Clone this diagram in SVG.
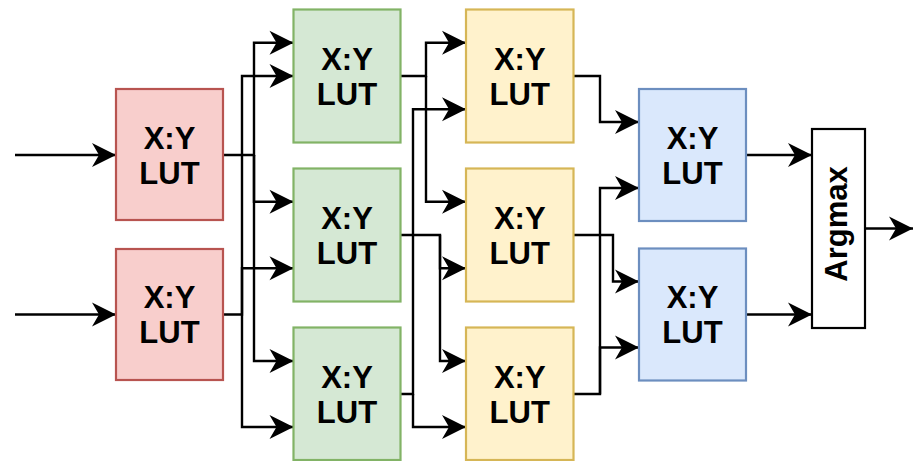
<svg xmlns="http://www.w3.org/2000/svg" width="914" height="461" viewBox="0 0 914 461">
  <defs>
    <marker id="arrow" markerUnits="userSpaceOnUse" markerWidth="24" markerHeight="24" viewBox="-24 -12 24 24" refX="0" refY="0" orient="auto" overflow="visible">
      <path d="M0,0 L-24,-12 L-17,0 L-24,12 Z" fill="#000"/>
    </marker>
    <style>
      .box { stroke-width: 2.2; }
      .red { fill: #f8cecc; stroke: #b85450; }
      .green { fill: #d5e8d4; stroke: #82b366; }
      .yellow { fill: #fff2cc; stroke: #d6b656; }
      .blue { fill: #dae8fc; stroke: #6c8ebf; }
      .plain { fill: #ffffff; stroke: #000000; }
      .lbl { font-family: "Liberation Sans", Arial, sans-serif; font-weight: bold; font-size: 31px; fill: #000; text-anchor: middle; }
      .wire { fill: none; stroke: #000; stroke-width: 2.4; marker-end: url(#arrow); }
    </style>
  </defs>
  <rect width="914" height="461" fill="#ffffff"/>

  <!-- connectors -->
  <g id="connectors">
    <!-- inputs -->
    <path class="wire" d="M15,155 H116"/>
    <path class="wire" d="M15,314.5 H116"/>
    <!-- layer 1 to layer 2 -->
    <path class="wire" d="M223,155 H254 V42.75 H293.5"/>
    <path class="wire" d="M254,155 V201.75 H293.5"/>
    <path class="wire" d="M254,155 V361 H293.5"/>
    <path class="wire" d="M223,314.5 H242 V76 H293.5"/>
    <path class="wire" d="M242,314.5 V268.25 H293.5"/>
    <path class="wire" d="M242,314.5 V427 H293.5"/>
    <!-- layer 2 to layer 3 -->
    <path class="wire" d="M400.5,76 H426 V42.75 H466"/>
    <path class="wire" d="M426,76 V201.75 H466"/>
    <path class="wire" d="M400.5,235 H440 V268.25 H466"/>
    <path class="wire" d="M440,235 V361 H466"/>
    <path class="wire" d="M400.5,394 H413 V109.25 H466"/>
    <path class="wire" d="M413,394 V427 H466"/>
    <!-- layer 3 to layer 4 -->
    <path class="wire" d="M573.5,76 H600 V122 H639"/>
    <path class="wire" d="M573.5,235 H613 V281.5 H639"/>
    <path class="wire" d="M573.5,394 H600 V188 H639"/>
    <path class="wire" d="M600,394 V347.5 H639"/>
    <!-- to argmax and output -->
    <path class="wire" d="M746,155 H812"/>
    <path class="wire" d="M746,314.5 H812"/>
    <path class="wire" d="M865,228.5 H913"/>
  </g>

  <!-- layer 1 -->
  <g id="lut-r1">
    <rect class="box red" x="116" y="89" width="107" height="131"/>
    <text class="lbl" x="169.5" y="148.5">X:Y</text>
    <text class="lbl" x="169.5" y="183.5">LUT</text>
  </g>
  <g id="lut-r2">
    <rect class="box red" x="116" y="249" width="107" height="131"/>
    <text class="lbl" x="169.5" y="308">X:Y</text>
    <text class="lbl" x="169.5" y="343">LUT</text>
  </g>

  <!-- layer 2 -->
  <g id="lut-g1">
    <rect class="box green" x="293.5" y="9.5" width="107" height="133"/>
    <text class="lbl" x="347" y="69.5">X:Y</text>
    <text class="lbl" x="347" y="104.5">LUT</text>
  </g>
  <g id="lut-g2">
    <rect class="box green" x="293.5" y="168.5" width="107" height="133"/>
    <text class="lbl" x="347" y="228.5">X:Y</text>
    <text class="lbl" x="347" y="263.5">LUT</text>
  </g>
  <g id="lut-g3">
    <rect class="box green" x="293.5" y="327.5" width="107" height="132.5"/>
    <text class="lbl" x="347" y="387.5">X:Y</text>
    <text class="lbl" x="347" y="422.5">LUT</text>
  </g>

  <!-- layer 3 -->
  <g id="lut-y1">
    <rect class="box yellow" x="466" y="9.5" width="107.5" height="133"/>
    <text class="lbl" x="519.75" y="69.5">X:Y</text>
    <text class="lbl" x="519.75" y="104.5">LUT</text>
  </g>
  <g id="lut-y2">
    <rect class="box yellow" x="466" y="168.5" width="107.5" height="133"/>
    <text class="lbl" x="519.75" y="228.5">X:Y</text>
    <text class="lbl" x="519.75" y="263.5">LUT</text>
  </g>
  <g id="lut-y3">
    <rect class="box yellow" x="466" y="327.5" width="107.5" height="132.5"/>
    <text class="lbl" x="519.75" y="387.5">X:Y</text>
    <text class="lbl" x="519.75" y="422.5">LUT</text>
  </g>

  <!-- layer 4 -->
  <g id="lut-b1">
    <rect class="box blue" x="639" y="89" width="107" height="132"/>
    <text class="lbl" x="692.5" y="148.5">X:Y</text>
    <text class="lbl" x="692.5" y="183.5">LUT</text>
  </g>
  <g id="lut-b2">
    <rect class="box blue" x="639" y="248.5" width="107" height="132"/>
    <text class="lbl" x="692.5" y="308">X:Y</text>
    <text class="lbl" x="692.5" y="343">LUT</text>
  </g>

  <!-- argmax -->
  <g id="argmax">
    <rect class="box plain" x="812" y="129" width="53" height="199"/>
    <text class="lbl" transform="translate(847,224) rotate(-90)" x="0" y="0">Argmax</text>
  </g>
</svg>
